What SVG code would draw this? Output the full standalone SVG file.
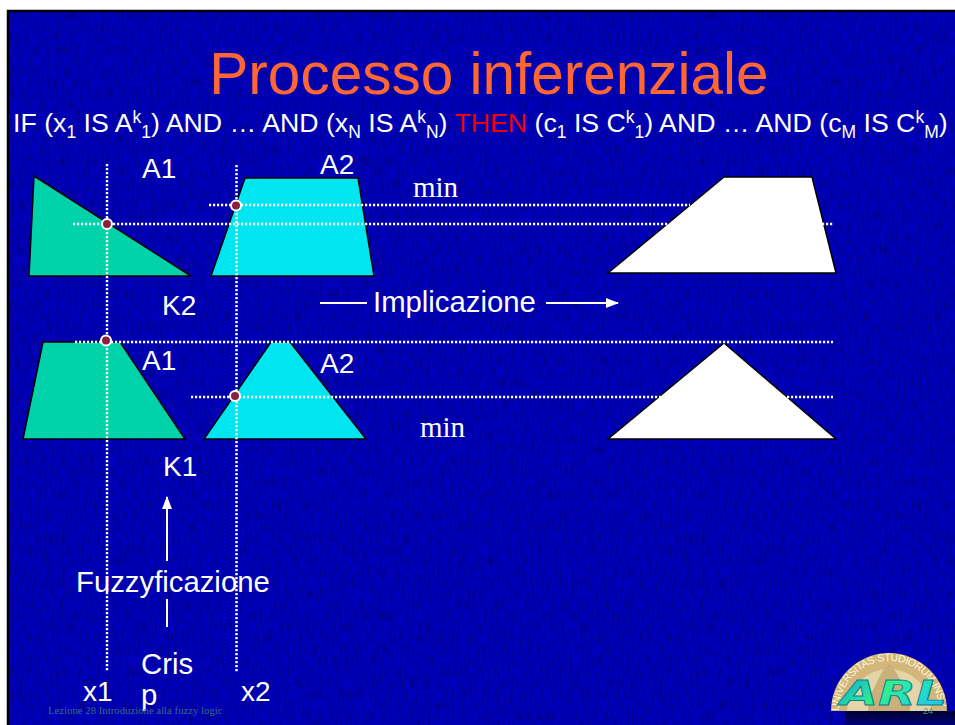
<svg xmlns="http://www.w3.org/2000/svg" width="955" height="725" viewBox="0 0 955 725">
<style>
text{font-family:"Liberation Sans",Arial,sans-serif;fill:#fff}
.lab{font-size:28px}
.big{font-size:29.3px}
.rule{font-size:26.7px}
.sub{font-size:17.500px}
.sup{font-size:17.500px}
.min{font-family:"Liberation Serif","Times New Roman",serif;font-size:29px}
.dot{fill:none;stroke:#fff;stroke-width:2.400;stroke-dasharray:2.200 1.800}
.ln{fill:none;stroke:#fff;stroke-width:2}
.shape{stroke:#000;stroke-width:1.500;stroke-linejoin:miter}
.green{fill:#00d2aa}
.cyan{fill:#00e6f0}
.white{fill:#fff}
.pt{fill:#8a2040;stroke:#fff;stroke-width:2}
</style>
<defs>
<filter id="tex" x="0" y="0" width="100%" height="100%">
<feTurbulence type="fractalNoise" baseFrequency="0.4 0.09" numOctaves="3" seed="4"/>
<feColorMatrix type="matrix" values="0 0 0 0 0  0 0 0 0 0  0 0 0 0 0.1  1.200 0 0 0 -0.480"/>
</filter>
<linearGradient id="arl" x1="0" y1="0.2" x2="1" y2="0.6">
<stop offset="0" stop-color="#10a8d8"/><stop offset="0.45" stop-color="#30f090"/><stop offset="1" stop-color="#20c8f0"/>
</linearGradient>
<linearGradient id="shade" x1="0" y1="0" x2="0" y2="1">
<stop offset="0" stop-color="#000030"/><stop offset="1" stop-color="#00007a"/>
</linearGradient>
<marker id="ah" markerWidth="14" markerHeight="12" refX="12" refY="5" orient="auto" markerUnits="userSpaceOnUse"><path d="M0 0L13 5L0 10Z" fill="#fff"/></marker>
<path id="arc" d="M839 711A50 50 0 0 1 939 711"/>
</defs>
<rect width="955" height="725" fill="#fff"/>
<rect x="8" y="11" width="947" height="714" fill="#0000bc"/>
<rect x="8" y="11" width="947" height="714" filter="url(#tex)"/>
<path d="M8 725V11H955" fill="none" stroke="#000" stroke-width="2.500"/>
<g id="title"><text x="489" y="94" font-size="58.500" text-anchor="middle" style="fill:#ff6633">Processo inferenziale</text></g>
<g id="rule"><text x="13" y="132" class="rule" xml:space="preserve">IF (x<tspan class="sub" dy="6">1</tspan><tspan dy="-6"> IS A</tspan><tspan class="sup" dy="-9">k</tspan><tspan class="sub" dy="15">1</tspan><tspan dy="-6">) AND … AND (x</tspan><tspan class="sub" dy="6">N</tspan><tspan dy="-6"> IS A</tspan><tspan class="sup" dy="-9">k</tspan><tspan class="sub" dy="15">N</tspan><tspan dy="-6">) </tspan><tspan style="fill:#f00000">THEN</tspan><tspan> (c</tspan><tspan class="sub" dy="6">1</tspan><tspan dy="-6"> IS C</tspan><tspan class="sup" dy="-9">k</tspan><tspan class="sub" dy="15">1</tspan><tspan dy="-6">) AND … AND (c</tspan><tspan class="sub" dy="6">M</tspan><tspan dy="-6"> IS C</tspan><tspan class="sup" dy="-9">k</tspan><tspan class="sub" dy="15">M</tspan><tspan dy="-6">)</tspan></text></g>
<g id="n-a1-top"><path class="shape green" d="M34 176L191 276H29Z"/></g>
<g id="n-a2-top"><path class="shape cyan" d="M245 178H358L374 276H211Z"/></g>
<g id="n-out-top"><path class="shape white" d="M724 177H812L836 273H608Z"/></g>
<g id="n-a1-bot"><path class="shape green" d="M43 342H120L185 439H23Z"/></g>
<g id="n-a2-bot"><path class="shape cyan" d="M271 342H290L366 439H204Z"/></g>
<g id="n-out-bot"><path class="shape white" d="M724 343L836 439H608Z"/></g>
<g id="connectors">
<path class="dot" d="M107 164V671"/>
<path class="dot" d="M236.500 165V673"/>
<path class="dot" d="M209 205H690"/>
<path class="dot" d="M73 224H668"/>
<path class="dot" d="M814 224H833"/>
<path class="dot" d="M75 342H833"/>
<path class="dot" d="M191 397H833"/>
<path class="ln" d="M320 303H367"/>
<path class="ln" d="M546 303H618" marker-end="url(#ah)"/>
<path class="ln" d="M167 561V497" marker-end="url(#ah)"/>
<path class="ln" d="M167 599V627"/>
</g>
<g id="points">
<circle class="pt" cx="107" cy="224" r="5"/>
<circle class="pt" cx="236" cy="205.500" r="5"/>
<circle class="pt" cx="106" cy="340.500" r="5"/>
<circle class="pt" cx="235" cy="396" r="5"/>
</g>
<g id="labels">
<text class="lab" x="142" y="178">A1</text>
<text class="lab" x="320" y="174">A2</text>
<text class="min" x="413" y="197">min</text>
<text class="lab" x="162" y="315">K2</text>
<text class="big" x="373" y="312">Implicazione</text>
<text class="lab" x="142" y="370">A1</text>
<text class="lab" x="320" y="373">A2</text>
<text class="min" x="420" y="437">min</text>
<text class="lab" x="163" y="476">K1</text>
<text class="big" x="76" y="592">Fuzzyficazione</text>
<text class="big" x="141" y="674">Cris</text>
<text class="big" x="141" y="705">p</text>
<text class="lab" x="83" y="701">x1</text>
<text class="lab" x="241" y="701">x2</text>
<text x="48" y="714" font-size="10.750" style="font-family:'Liberation Serif',serif;fill:#3a6a80">Lezione 28 Introduzione alla fuzzy logic</text>
</g>
<g id="logo">
<rect x="845" y="711" width="110" height="14" fill="url(#shade)"/>
<path d="M831 711A58 58 0 0 1 947 711Z" fill="#d2b67a"/>
<path d="M847 711A42 42 0 0 1 931 711Z" fill="#e4d4a8"/>
<path d="M868 700L882 672L889 664L896 672L910 700V711H868Z" fill="#c8b078"/>
<text font-size="10.500" style="fill:#fff6d8"><textPath href="#arc" textLength="153" lengthAdjust="spacing">UNIVERSITAS·STUDIORUM·INSV</textPath></text>
<text x="840" y="705" font-size="34" font-weight="700" font-style="italic" textLength="107" lengthAdjust="spacingAndGlyphs" style="font-family:'DejaVu Sans',sans-serif;fill:url(#arl);stroke:#0a7f8c;stroke-width:.8">ARL</text>
<text x="923" y="714" font-size="9" style="fill:#5a9a70">24</text>
</g>
</svg>
